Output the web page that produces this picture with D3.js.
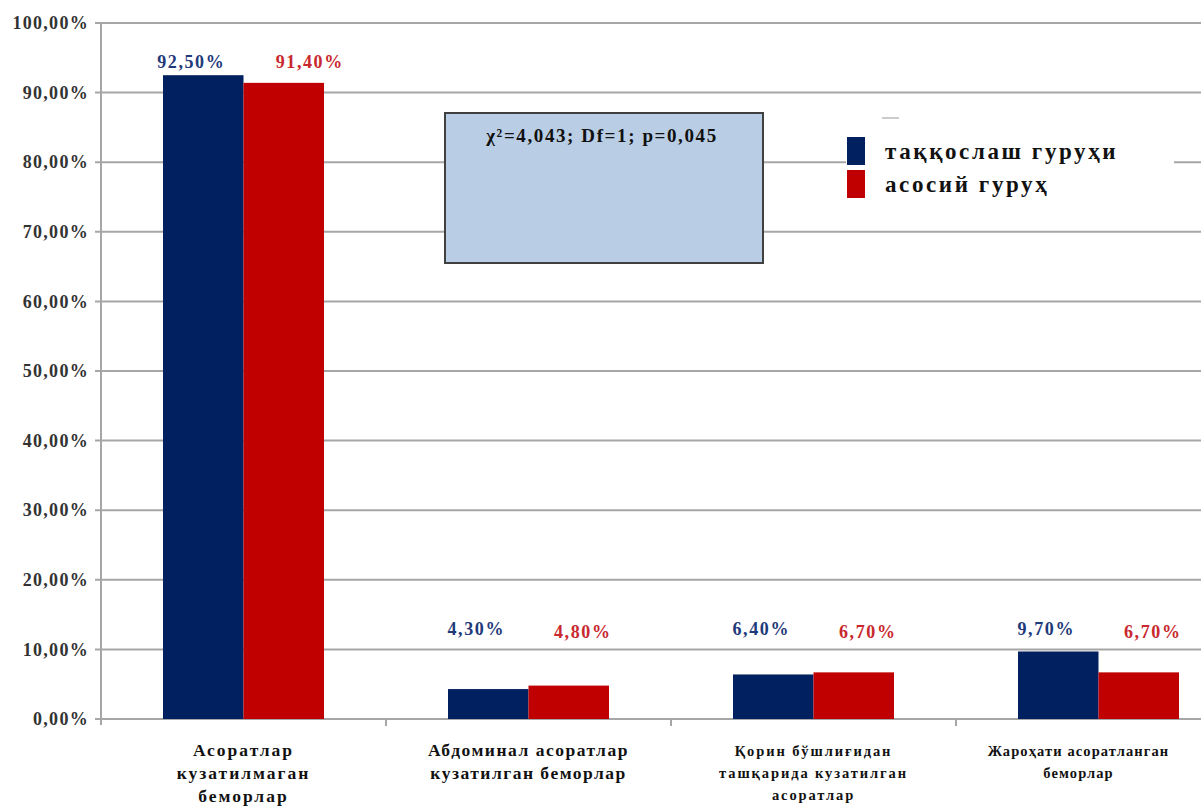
<!DOCTYPE html>
<html lang="uz"><head><meta charset="utf-8">
<title>Chart</title>
<script src="https://cdn.jsdelivr.net/npm/d3@7"></script>
<style>
  body { margin: 0; background: #fff; }
  text { font-family: "Liberation Serif", "DejaVu Serif", serif; font-weight: bold; }
</style>
</head>
<body>
<script>
    // data
    var categories = ["c1", "c2", "c3", "c4"];
    var categoryLines = [
        ["Асоратлар", "кузатилмаган", "беморлар"],
        ["Абдоминал асоратлар", "кузатилган беморлар"],
        ["Қорин бўшлиғидан", "ташқарида кузатилган", "асоратлар"],
        ["Жароҳати асоратланган", "беморлар"]
    ];
    var seriesNames = ["таққослаш гуруҳи", "асосий гуруҳ"];
    var comparisonValues = [92.5, 4.3, 6.4, 9.7];
    var mainValues = [91.4, 4.8, 6.7, 6.7];
    var yTicks = [0, 10, 20, 30, 40, 50, 60, 70, 80, 90, 100];
    var statText = "χ²=4,043; Df=1; p=0,045";

    var barColors = ["#002060", "#c00000"];
    var labelColors = ["#1f3a7a", "#c8282e"];

    var width = 1201, height = 809;
    var plotLeft = 101, plotTop = 23, plotBottom = 719;

    var svg = d3.select("body").append("svg")
        .attr("width", width)
        .attr("height", height);

    var y = d3.scaleLinear().domain([0, 100]).range([plotBottom, plotTop]);
    // plot area runs past the right edge of the picture
    var x0 = d3.scaleBand().domain(categories).range([plotLeft, 1241]);
    var x1 = d3.scaleBand().domain([0, 1]).range([-80.5, 80.5]);

    var fmt = function (v) { return v.toFixed(2).replace(".", ",") + "%"; };

    // gridlines
    svg.append("g").selectAll("line")
        .data(yTicks).enter().append("line")
        .attr("x1", 95).attr("x2", width)
        .attr("y1", function (d) { return y(d); })
        .attr("y2", function (d) { return y(d); })
        .attr("stroke", "#a6a6a6")
        .attr("stroke-width", 2);

    // y axis
    var yAxis = d3.axisLeft(y).tickValues(yTicks).tickSize(0).tickPadding(12).tickFormat(fmt);
    var gy = svg.append("g")
        .attr("transform", "translate(" + plotLeft + ",0)")
        .call(yAxis);
    gy.select(".domain").remove();
    gy.selectAll("text")
        .attr("font-size", 18)
        .attr("font-family", "Liberation Serif")
        .attr("letter-spacing", 1.3)
        .attr("fill", "#333");
    svg.append("line")
        .attr("x1", plotLeft).attr("x2", plotLeft)
        .attr("y1", plotTop).attr("y2", plotBottom + 6)
        .attr("stroke", "#a6a6a6").attr("stroke-width", 2);

    // x tick marks between categories
    svg.append("g").selectAll("line")
        .data(categories.slice(1)).enter().append("line")
        .attr("x1", function (d) { return x0(d); })
        .attr("x2", function (d) { return x0(d); })
        .attr("y1", plotBottom).attr("y2", plotBottom + 7)
        .attr("stroke", "#a6a6a6").attr("stroke-width", 2);

    // bars
    var series = [comparisonValues, mainValues];
    series.forEach(function (vals, s) {
        svg.append("g").selectAll("rect")
            .data(vals).enter().append("rect")
            .attr("x", function (d, i) { return x0(categories[i]) + x0.bandwidth() / 2 + x1(s); })
            .attr("width", x1.bandwidth())
            .attr("y", function (d) { return y(d); })
            .attr("height", function (d) { return plotBottom - y(d); })
            .attr("fill", barColors[s]);

        svg.append("g").selectAll("text")
            .data(vals).enter().append("text")
            .attr("x", function (d, i) {
                var c = x0(categories[i]) + x0.bandwidth() / 2 + x1(s) + x1.bandwidth() / 2;
                if (s === 0) return c - 12;
                return d > 50 ? c + 26 : c + 14;
            })
            .attr("y", function (d, i) {
                var top = Math.max(comparisonValues[i], mainValues[i]);
                return Math.min(y(top) - 7, y(12)) + (s === 1 && top < 50 ? 3 : 0);
            })
            .attr("text-anchor", "middle")
            .attr("font-size", 18)
            .attr("letter-spacing", 1.6)
            .attr("fill", labelColors[s])
            .text(fmt);
    });

    // category labels
    var catSpacing = [2, 1.5, 1.9, 1.1];
    categoryLines.forEach(function (lines, i) {
        var small = i >= 2;
        var t = svg.append("text")
            .attr("text-anchor", "middle")
            .attr("font-size", small ? 14.5 : 17.5)
            .attr("letter-spacing", catSpacing[i])
            .attr("fill", "#111");
        t.selectAll("tspan").data(lines).enter().append("tspan")
            .attr("x", x0(categories[i]) + x0.bandwidth() / 2 - (i === 3 ? 20 : 0))
            .attr("y", function (d, k) { return 756 + k * (small ? 22 : 23); })
            .text(function (d) { return d; });
    });

    // statistics box
    svg.append("rect")
        .attr("x", 445).attr("y", 113)
        .attr("width", 318).attr("height", 150)
        .attr("fill", "#b9cde5")
        .attr("stroke", "#404040").attr("stroke-width", 2);
    svg.append("text")
        .attr("x", 602).attr("y", 142)
        .attr("text-anchor", "middle")
        .attr("font-size", 19)
        .attr("letter-spacing", 1.6)
        .attr("fill", "#111")
        .text(statText);

    // legend
    svg.append("rect")
        .attr("x", 846).attr("y", 112)
        .attr("width", 328).attr("height", 95)
        .attr("fill", "#fff");
    svg.append("line")
        .attr("x1", 882).attr("x2", 899)
        .attr("y1", 118).attr("y2", 118)
        .attr("stroke", "#ccc").attr("stroke-width", 2);
    var legend = svg.selectAll(".legend")
        .data(seriesNames).enter().append("g")
        .attr("class", "legend")
        .attr("transform", function (d, i) { return "translate(847," + (137 + i * 33) + ")"; });
    legend.append("rect")
        .attr("width", 18).attr("height", 28)
        .attr("fill", function (d, i) { return barColors[i]; });
    legend.append("text")
        .attr("x", 38).attr("y", 22)
        .attr("font-size", 23)
        .attr("letter-spacing", 2.6)
        .attr("fill", "#111")
        .text(function (d) { return d; });
</script>
</body></html>
